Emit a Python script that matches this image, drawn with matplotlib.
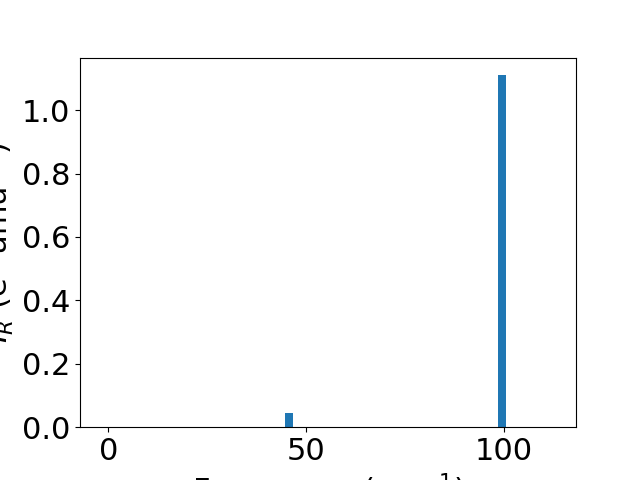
import matplotlib
matplotlib.use("Agg")
import matplotlib.pyplot as plt

frequencies = [45.6, 99.6]
intensities = [0.044, 1.11]

plt.rcParams['font.size'] = 22
fig, ax = plt.subplots(figsize=(6.4, 4.8), dpi=100)
ax.bar(frequencies, intensities, width=2.0, color='#1f77b4')
ax.set_xlim(-7.15, 118.2)
ax.set_xlabel(r'Frequency (cm$^{-1}$)')
ax.set_ylabel(r'$I_R$ (e$^2$ amu$^{-1}$)')
ax.set_xticks([0, 50, 100])
fig.savefig('out.png', dpi=100)
